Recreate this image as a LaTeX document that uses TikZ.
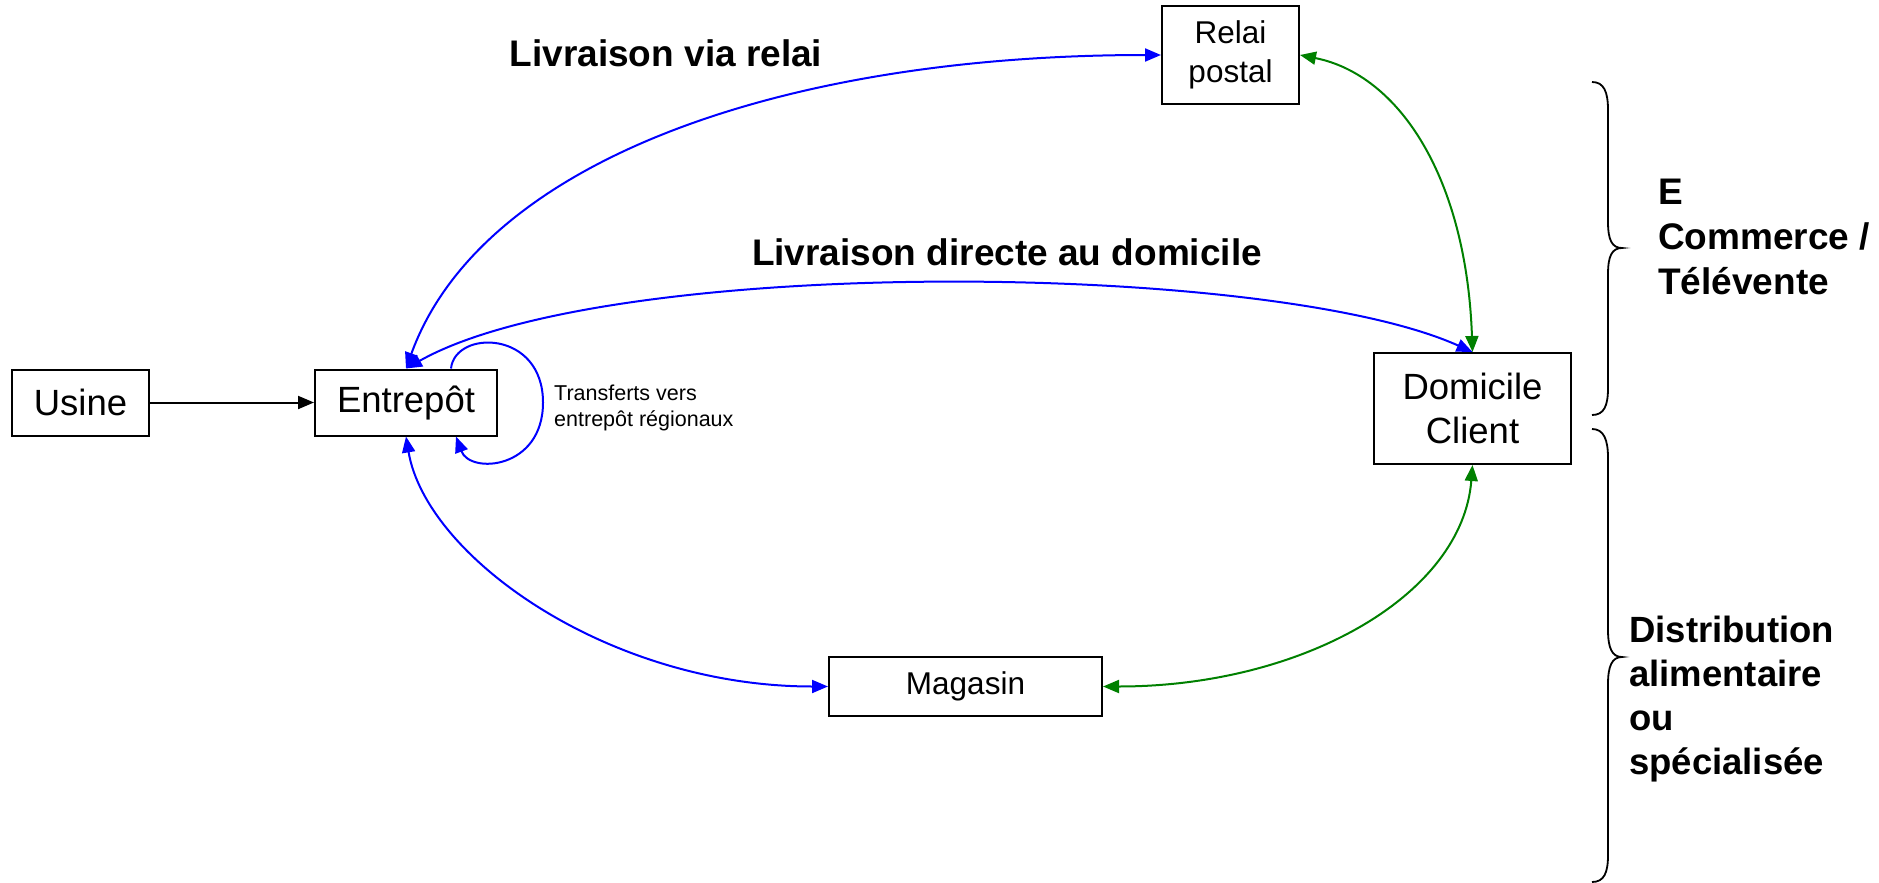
\documentclass[tikz,border=0pt]{standalone}
\usepackage{fontspec}
\setmainfont{Liberation Sans}
\usetikzlibrary{arrows.meta,calc}
\definecolor{lnblue}{RGB}{0,0,255}
\definecolor{lngreen}{RGB}{0,128,0}
\begin{document}
\begin{tikzpicture}[x=1pt,y=-1pt,
  box/.style={draw=black, line width=2pt, inner sep=0pt, align=center},
  bigtxt/.style={font=\fontsize{36.5}{44}\selectfont},
  smalltxt/.style={font=\fontsize{31.5}{39}\selectfont},
  lbl/.style={font=\fontsize{37}{45}\selectfont\bfseries},
  conn/.style={line width=2pt, >={Triangle[length=16pt,width=13pt]}},
  bluec/.style={conn, draw=lnblue, <->},
  greenc/.style={conn, draw=lngreen, <->},
  bracestyle/.style={draw=black, line width=1.8pt}
]
\useasboundingbox (0,0) rectangle (1879,883);

% boxes
\node[box, bigtxt, minimum width=137pt, minimum height=66pt] (usine) at (80.5,402.5) {Usine};
\node[box, bigtxt, minimum width=182pt, minimum height=66pt] (ent) at (406,402.5) {Entrepôt};
\node[box, smalltxt, minimum width=137pt, minimum height=98pt] (relai) at (1230.5,55) {Relai\\postal};
\node[box, bigtxt, minimum width=197pt, minimum height=111pt] (dom) at (1472.5,408.5) {Domicile\\Client};
\node[box, smalltxt, minimum width=273pt, minimum height=59pt] (mag) at (965.5,686.5) {Magasin};

% labels
\node[lbl, inner sep=0pt] (lvr) at (666,53) {Livraison via relai};
\node[lbl, inner sep=0pt] (ldd) at (1007,252) {Livraison directe au domicile};
\node[font=\fontsize{21.5}{26.5}\selectfont, align=left, anchor=west, inner sep=0pt] (tr) at (554,408) {Transferts vers\\entrepôt régionaux};
\node[lbl, align=left, anchor=west, inner sep=0pt] (ec) at (1658,237) {E\\Commerce /\\Télévente};
\node[font=\fontsize{36.5}{44}\selectfont\bfseries, align=left, anchor=west, inner sep=0pt] (da) at (1629,699) {Distribution\\alimentaire\\ou\\spécialisée};

% connectors
\draw[conn, ->] (usine.east) -- (ent.west);
\draw[bluec] (ent.north) .. controls +(75,-207) and +(-380,0) .. (relai.west);
\draw[bluec] (ent.north) .. controls +(202,-114) and +(-202,-91) .. (dom.north);
\draw[bluec] (ent.south) .. controls +(20,120) and +(-220,0) .. (mag.west);
\draw[greenc] (dom.south) .. controls +(-10,130) and +(200,0) .. (mag.east);
\draw[greenc] (relai.east) .. controls +(100,20) and +(-6,-173) .. (dom.north);
\draw[conn, draw=lnblue, ->] ([xshift=45pt]ent.north) .. controls +(4,-39) and +(0,-73) .. ($(ent.east)+(45,0)$) .. controls +(0,67) and +(14,38) .. ([xshift=50pt]ent.south);

% braces
\draw[bracestyle] (1592,82) .. controls (1604,82) and (1608,92) .. (1608,110) -- (1608,222) .. controls (1608,240) and (1612,248) .. (1622,248) .. controls (1612,248) and (1608,256) .. (1608,274) -- (1608,388) .. controls (1608,406) and (1604,415) .. (1592,415);
\draw[bracestyle] (1592,429) .. controls (1604,429) and (1608,440) .. (1608,458) -- (1608,630) .. controls (1608,648) and (1612,657) .. (1622,657) .. controls (1612,657) and (1608,666) .. (1608,684) -- (1608,855) .. controls (1608,873) and (1604,882) .. (1592,882);
\end{tikzpicture}
\end{document}
